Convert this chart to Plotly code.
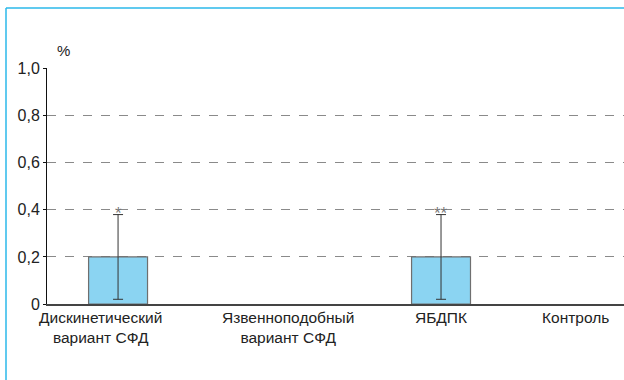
import plotly.graph_objects as go

# Data
categories = ["Дискинетический<br>вариант СФД", "Язвенноподобный<br>вариант СФД", "ЯБДПК", "Контроль"]
values = [0.2, 0.0, 0.2, 0.0]
errors = [0.18, 0.0, 0.18, 0.0]
marks = ["*", "", "**", ""]
y_ticks = [0, 0.2, 0.4, 0.6, 0.8, 1.0]
y_tick_labels = ["0", "0,2", "0,4", "0,6", "0,8", "1,0"]

# Layout constants
W, H = 624, 380
ML, MR, MT, MB = 47, 0, 68, 76
FONT = "Liberation Sans, Arial, sans-serif"
label_shift = [-18, 8, 0, -27]

xs = list(range(len(categories)))
outline = [1.2 if v > 0 else 0 for v in values]

fig = go.Figure()
fig.add_trace(go.Bar(
    x=xs, y=values, width=0.365,
    marker=dict(color="#8BD4F2", line=dict(color="#6f6f6f", width=outline)),
    showlegend=False, hoverinfo="skip",
))

# whiskers only where a spread exists
ex = [x for x, e in zip(xs, errors) if e > 0]
ey = [v for v, e in zip(values, errors) if e > 0]
ee = [e for e in errors if e > 0]
fig.add_trace(go.Scatter(
    x=ex, y=ey, mode="markers", marker=dict(size=0.1, color="rgba(0,0,0,0)"),
    error_y=dict(type="data", array=ee, visible=True, color="#333333",
                 thickness=1, width=5),
    showlegend=False, hoverinfo="skip",
))

annotations = []
for i, (lab, v, e, m) in enumerate(zip(categories, values, errors, marks)):
    annotations.append(dict(
        x=i, y=0, xref="x", yref="y", text=lab, showarrow=False,
        xanchor="center", yanchor="top", yshift=-3, xshift=label_shift[i],
        font=dict(family=FONT, size=15.5, color="#222222"), align="center",
    ))
    if m:
        annotations.append(dict(
            x=i, y=v + e, xref="x", yref="y", text=m, showarrow=False,
            xanchor="center", yanchor="bottom", yshift=-10,
            font=dict(family=FONT, size=17, color="#777777"),
        ))
annotations.append(dict(
    x=0, y=1.0, xref="paper", yref="y", text="%", showarrow=False,
    xanchor="left", yanchor="bottom", xshift=8, yshift=8,
    font=dict(family=FONT, size=15, color="#222222"),
))

pw = W - ML - MR
ph = H - MT - MB
frame_color = "#2BB8EA"
shapes = [
    dict(type="line", xref="paper", yref="paper",
         x0=(6 - ML) / pw, x1=(W + 5 - ML) / pw, y0=(H - MB - 8) / ph, y1=(H - MB - 8) / ph,
         line=dict(color=frame_color, width=1.5)),
    dict(type="line", xref="paper", yref="paper",
         x0=(6 - ML) / pw, x1=(6 - ML) / pw, y0=(H - MB - 8) / ph, y1=-(MB + 5) / ph,
         line=dict(color=frame_color, width=1.5)),
]

fig.update_layout(
    width=W, height=H,
    margin=dict(l=ML, r=MR, t=MT, b=MB),
    paper_bgcolor="white", plot_bgcolor="white",
    font=dict(family=FONT, size=15, color="#222222"),
    xaxis=dict(range=[-0.44, 3.133], showticklabels=False, showgrid=False,
               zeroline=False, showline=True, linecolor="#444444", linewidth=1.5,
               ticks=""),
    yaxis=dict(range=[0, 1.003], tickvals=y_ticks, ticktext=y_tick_labels,
               showgrid=True, gridcolor="#8a8a8a", griddash="dash", gridwidth=1,
               zeroline=False, showline=True, linecolor="#111111", linewidth=1,
               ticks="outside", ticklen=3, tickcolor="#111111",
               tickfont=dict(family=FONT, size=16, color="#222222")),
    annotations=annotations,
    shapes=shapes,
)

fig.write_html("out.html")
